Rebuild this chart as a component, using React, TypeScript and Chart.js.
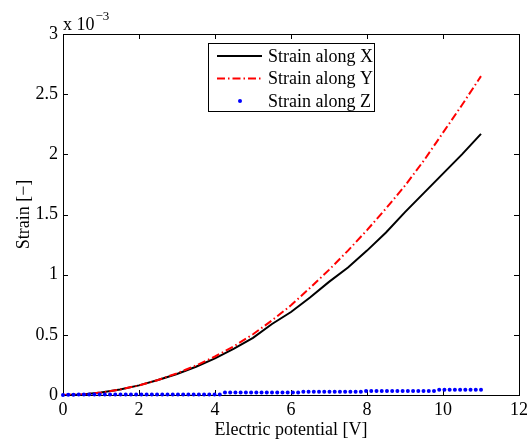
import React, { useEffect, useRef } from "react";
import { Chart, registerables } from "chart.js";

Chart.register(...registerables);

// ---- data (strain values in units of 1e-3) ----
const lineX = [0, 0.5, 1, 1.5, 2, 2.5, 3, 3.5, 4, 4.5, 5, 5.5, 6, 6.5, 7, 7.5, 8, 8.5, 9, 9.5, 10, 10.5, 11];
const strainX = [0, 0.005, 0.02, 0.045, 0.08, 0.125, 0.175, 0.235, 0.305, 0.385, 0.475, 0.59, 0.69, 0.81, 0.94, 1.06, 1.2, 1.35, 1.52, 1.68, 1.84, 2.0, 2.17];
const strainY = [0, 0.005, 0.02, 0.045, 0.08, 0.125, 0.18, 0.245, 0.32, 0.405, 0.505, 0.62, 0.745, 0.89, 1.04, 1.2, 1.37, 1.55, 1.74, 1.95, 2.18, 2.41, 2.65];

const dotX = [
  0, 0.1375, 0.275, 0.4125, 0.55, 0.6875, 0.825, 0.9625, 1.1, 1.2375,
  1.375, 1.5125, 1.65, 1.7875, 1.925, 2.0625, 2.2, 2.3375, 2.475, 2.6125,
  2.75, 2.8875, 3.025, 3.1625, 3.3, 3.4375, 3.575, 3.7125, 3.85, 3.9875,
  4.125, 4.2625, 4.4, 4.5375, 4.675, 4.8125, 4.95, 5.0875, 5.225, 5.3625,
  5.5, 5.6375, 5.775, 5.9125, 6.05, 6.1875, 6.325, 6.4625, 6.6, 6.7375,
  6.875, 7.0125, 7.15, 7.2875, 7.425, 7.5625, 7.7, 7.8375, 7.975, 8.1125,
  8.25, 8.3875, 8.525, 8.6625, 8.8, 8.9375, 9.075, 9.2125, 9.35, 9.4875,
  9.625, 9.7625, 9.9, 10.0375, 10.175, 10.3125, 10.45, 10.5875, 10.725, 10.8625,
  11,
];
const strainZ = [
  0, 0.002, 0.003, 0.004, 0.005, 0.005, 0.005, 0.005, 0.005, 0.005,
  0.005, 0.005, 0.005, 0.005, 0.005, 0.005, 0.005, 0.005, 0.005, 0.005,
  0.005, 0.005, 0.005, 0.005, 0.005, 0.005, 0.005, 0.005, 0.005, 0.005,
  0.005, 0.02, 0.02, 0.02, 0.02, 0.02, 0.02, 0.02, 0.02, 0.02,
  0.02, 0.02, 0.02, 0.02, 0.02, 0.02, 0.026, 0.026, 0.026, 0.026,
  0.026, 0.026, 0.026, 0.026, 0.026, 0.026, 0.026, 0.026, 0.034, 0.034,
  0.034, 0.034, 0.034, 0.034, 0.034, 0.034, 0.034, 0.034, 0.034, 0.034,
  0.034, 0.034, 0.044, 0.044, 0.044, 0.044, 0.044, 0.044, 0.044, 0.044,
  0.044,
];

const xTicks = [0, 2, 4, 6, 8, 10, 12];
const yTicks = [0, 0.5, 1, 1.5, 2, 2.5, 3];
const seriesLabels = ["Strain along X", "Strain along Y", "Strain along Z"];
const xTitle = "Electric potential [V]";
const yTitle = "Strain [\u2212]";
const expBase = "x 10";
const expPower = "\u22123";

const FONT = "'Liberation Serif', 'Times New Roman', serif";
const RED_DASH = [8, 3, 1.5, 3];

const matlabAxes = {
  id: "matlabAxes",
  beforeDatasetsDraw(chart: any) {
    const { ctx, chartArea: a, scales } = chart;
    ctx.save();
    ctx.strokeStyle = "#000";
    ctx.lineWidth = 1;
    ctx.strokeRect(a.left + 0.5, a.top + 0.5, a.right - a.left, a.bottom - a.top);
    const tl = 5;
    ctx.beginPath();
    for (const v of xTicks) {
      const px = Math.round(scales.x.getPixelForValue(v)) + 0.5;
      ctx.moveTo(px, a.bottom);
      ctx.lineTo(px, a.bottom - tl);
      ctx.moveTo(px, a.top);
      ctx.lineTo(px, a.top + tl);
    }
    for (const v of yTicks) {
      const py = Math.round(scales.y.getPixelForValue(v)) + 0.5;
      ctx.moveTo(a.left, py);
      ctx.lineTo(a.left + tl, py);
      ctx.moveTo(a.right, py);
      ctx.lineTo(a.right - tl, py);
    }
    ctx.stroke();
    ctx.restore();
  },
  afterDraw(chart: any) {
    const { ctx, chartArea: a } = chart;
    ctx.save();
    // exponent label
    ctx.fillStyle = "#000";
    ctx.textBaseline = "alphabetic";
    ctx.textAlign = "left";
    ctx.font = `18px ${FONT}`;
    ctx.fillText(expBase, a.left, a.top - 4);
    const w = ctx.measureText(expBase).width;
    ctx.font = `13px ${FONT}`;
    ctx.fillText(expPower, a.left + w + 1, a.top - 14);

    // legend
    const bx = 208, by = 43, bw = 166, bh = 68;
    ctx.fillStyle = "#fff";
    ctx.fillRect(bx, by, bw, bh);
    ctx.strokeStyle = "#000";
    ctx.lineWidth = 1;
    ctx.strokeRect(bx + 0.5, by + 0.5, bw, bh);
    const rows = [56, 78.5, 101];
    const ds = chart.data.datasets;
    for (let i = 0; i < ds.length; i++) {
      const d = ds[i];
      const y = rows[i];
      if (d.showLine === false) {
        ctx.beginPath();
        ctx.fillStyle = d.pointBackgroundColor;
        ctx.arc(240, y, d.pointRadius, 0, Math.PI * 2);
        ctx.fill();
      } else {
        ctx.beginPath();
        ctx.strokeStyle = d.borderColor;
        ctx.lineWidth = d.borderWidth;
        ctx.setLineDash(d.borderDash || []);
        ctx.moveTo(217, y);
        ctx.lineTo(262, y);
        ctx.stroke();
        ctx.setLineDash([]);
      }
      ctx.fillStyle = "#000";
      ctx.font = `18px ${FONT}`;
      ctx.textBaseline = "middle";
      ctx.fillText(d.label, 268, y + 1);
    }
    ctx.restore();
  },
};

export default function App() {
  const ref = useRef<HTMLCanvasElement | null>(null);

  useEffect(() => {
    if (!ref.current) return;
    const chart = new Chart(ref.current, {
      type: "scatter",
      data: {
        datasets: [
          {
            label: seriesLabels[0],
            data: lineX.map((x, i) => ({ x, y: strainX[i] })),
            showLine: true,
            borderColor: "#000000",
            borderWidth: 2,
            pointRadius: 0,
            order: 2,
          },
          {
            label: seriesLabels[1],
            data: lineX.map((x, i) => ({ x, y: strainY[i] })),
            showLine: true,
            borderColor: "#ff0000",
            borderWidth: 2,
            borderDash: RED_DASH,
            pointRadius: 0,
            order: 1,
          },
          {
            label: seriesLabels[2],
            data: dotX.map((x, i) => ({ x, y: strainZ[i] })),
            showLine: false,
            pointRadius: 2,
            pointBackgroundColor: "#0000ff",
            pointBorderWidth: 0,
            pointBorderColor: "#0000ff",
            clip: false,
            order: 0,
          } as any,
        ],
      },
      options: {
        responsive: false,
        animation: false,
        layout: { padding: { top: 34, right: 12, left: 0, bottom: 0 } },
        plugins: { legend: { display: false }, tooltip: { enabled: false } },
        scales: {
          x: {
            type: "linear",
            min: 0,
            max: 12,
            grid: { display: false, drawTicks: false },
            border: { display: false },
            afterFit: (s: any) => { s.height = 46; },
            afterBuildTicks: (s: any) => { s.ticks = xTicks.map((v) => ({ value: v })); },
            ticks: {
              color: "#000",
              padding: 4,
              maxRotation: 0,
              font: { family: FONT, size: 18 },
              callback: (v: any) => String(v),
            },
            title: {
              display: true,
              text: xTitle,
              color: "#000",
              font: { family: FONT, size: 18 },
              padding: { top: 0, bottom: 0 },
            },
          },
          y: {
            type: "linear",
            min: 0,
            max: 3,
            grid: { display: false, drawTicks: false },
            border: { display: false },
            afterFit: (s: any) => { s.width = 63; },
            afterBuildTicks: (s: any) => { s.ticks = yTicks.map((v) => ({ value: v })); },
            ticks: {
              color: "#000",
              padding: 5,
              font: { family: FONT, size: 18 },
              callback: (v: any) => String(v),
            },
            title: {
              display: true,
              text: yTitle,
              color: "#000",
              font: { family: FONT, size: 18 },
              padding: { top: 13, bottom: 0 },
            },
          },
        },
      },
      plugins: [matlabAxes],
    });
    return () => chart.destroy();
  }, []);

  return (
    <div style={{ position: "absolute", left: 0, top: 0, width: 532, height: 441, background: "#fff" }}>
      <canvas ref={ref} width={532} height={441} style={{ display: "block" }} />
    </div>
  );
}
